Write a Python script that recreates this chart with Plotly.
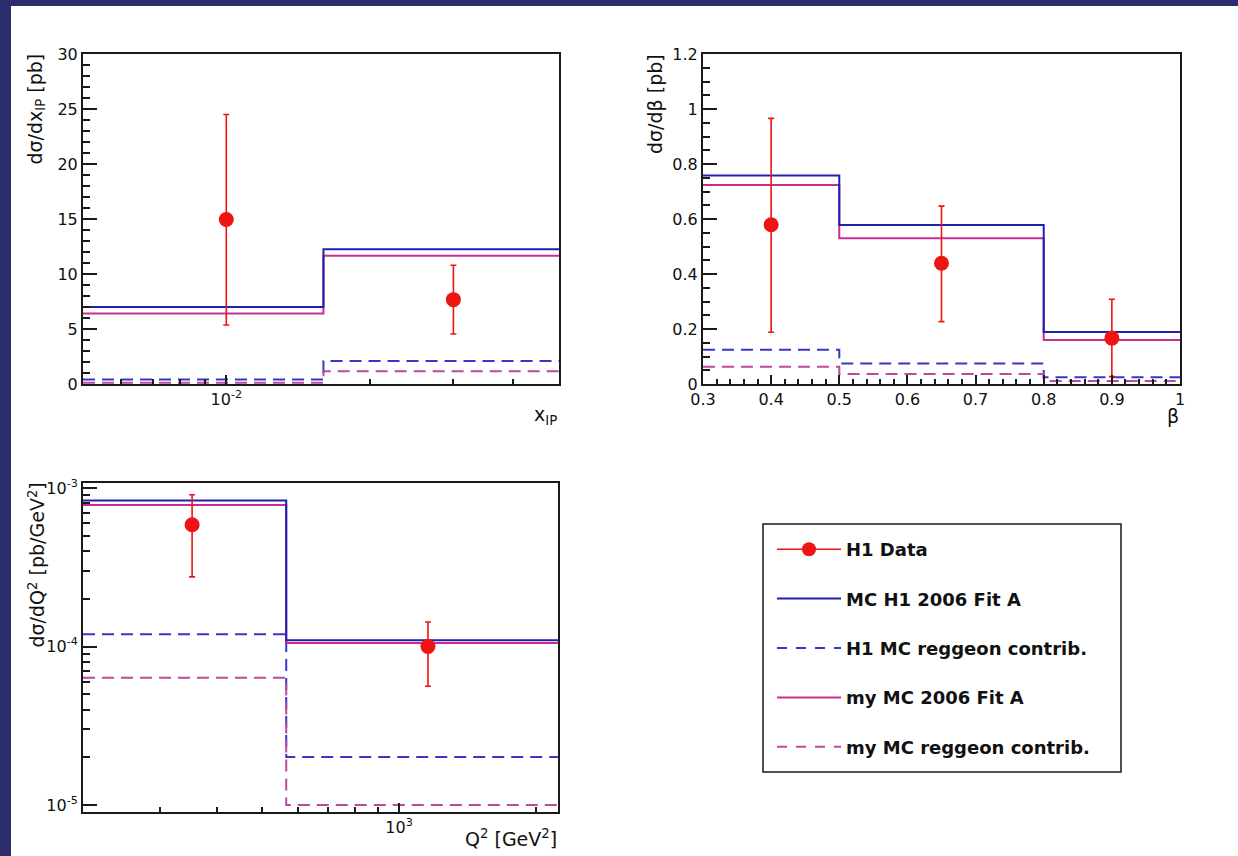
import plotly.graph_objects as go
import numpy as np

W, H = 1238, 856

# ---------------- data ----------------
# Panel 1: d sigma / d x_IP
xip_edges = [0.005, 0.016, 0.05]
xip_h1_fit = [7.0, 12.25]
xip_h1_regg = [0.4, 2.08]
xip_my_fit = [6.4, 11.65]
xip_my_regg = [0.12, 1.15]
xip_data_x = [0.01, 0.03]
xip_data_y = [14.95, 7.67]
xip_err_up = [9.55, 3.13]
xip_err_dn = [9.59, 3.12]

# Panel 2: d sigma / d beta
beta_edges = [0.3, 0.5, 0.8, 1.0]
beta_h1_fit = [0.758, 0.578, 0.189]
beta_h1_regg = [0.125, 0.075, 0.025]
beta_my_fit = [0.724, 0.530, 0.160]
beta_my_regg = [0.063, 0.036, 0.011]
beta_data_x = [0.4, 0.65, 0.9]
beta_data_y = [0.579, 0.439, 0.167]
beta_err_up = [0.387, 0.208, 0.141]
beta_err_dn = [0.391, 0.212, 0.140]

# Panel 3: d sigma / d Q^2
q2_edges = [203, 566, 2230]
q2_h1_fit = [8.36e-4, 1.096e-4]
q2_h1_regg = [1.196e-4, 2.01e-5]
q2_my_fit = [7.81e-4, 1.054e-4]
q2_my_regg = [6.35e-5, 1.0e-5]
q2_data_x = [352, 1157]
q2_data_y = [5.87e-4, 1.0e-4]
q2_err_up = [3.21e-4, 4.3e-5]
q2_err_dn = [3.12e-4, 4.38e-5]

legend_names = ["H1 Data", "MC H1 2006 Fit A", "H1 MC reggeon contrib.",
                "my MC 2006 Fit A", "my MC reggeon contrib."]

# ---------------- styles ----------------
RED = "#ee1414"
BLUE = "#2020b0"
BLUE_D = "#3636c8"
MAG = "#cc2c90"
MAG_D = "#bb4a9e"
BG = "#2b2e6a"
FONT = "DejaVu Sans"
DASH = "12px,7px"


def px_x(p):
    return p / W


def px_y(p):
    return 1 - p / H


def step_y(v):
    return list(v) + [v[-1]]


fig = go.Figure()

panels = [
    ("x", "y", xip_edges, xip_h1_fit, xip_h1_regg, xip_my_fit, xip_my_regg,
     xip_data_x, xip_data_y, xip_err_up, xip_err_dn),
    ("x2", "y2", beta_edges, beta_h1_fit, beta_h1_regg, beta_my_fit, beta_my_regg,
     beta_data_x, beta_data_y, beta_err_up, beta_err_dn),
    ("x3", "y3", q2_edges, q2_h1_fit, q2_h1_regg, q2_my_fit, q2_my_regg,
     q2_data_x, q2_data_y, q2_err_up, q2_err_dn),
]

for (xa, ya, edges, h1f, h1r, myf, myr, dx, dy, eu, ed) in panels:
    for vals, col, dash in [(h1r, BLUE_D, DASH), (myr, MAG_D, DASH),
                            (myf, MAG, "solid"), (h1f, BLUE, "solid")]:
        fig.add_trace(go.Scatter(
            x=edges, y=step_y(vals), mode="lines", line_shape="hv",
            line=dict(color=col, width=2, dash=dash),
            xaxis=xa, yaxis=ya, showlegend=False, hoverinfo="skip"))
    fig.add_trace(go.Scatter(
        x=dx, y=dy, mode="markers",
        marker=dict(color=RED, size=15, symbol="circle"),
        error_y=dict(type="data", array=eu, arrayminus=ed, color=RED,
                     thickness=1.6, width=3),
        xaxis=xa, yaxis=ya, showlegend=False))

# legend proxies (no data)
leg_styles = [
    dict(mode="lines+markers", line=dict(color=RED, width=1.6),
         marker=dict(color=RED, size=14)),
    dict(mode="lines", line=dict(color=BLUE, width=2)),
    dict(mode="lines", line=dict(color=BLUE_D, width=2, dash="10px,9px")),
    dict(mode="lines", line=dict(color=MAG, width=2)),
    dict(mode="lines", line=dict(color=MAG_D, width=2, dash="10px,9px")),
]
for i, (name, st) in enumerate(zip(legend_names, leg_styles)):
    fig.add_trace(go.Scatter(x=[None], y=[None], name=name, legendgroup=f"g{i}",
                             xaxis="x3", yaxis="y3", showlegend=True, **st))

tickfont = dict(family=FONT, size=16, color="#111111")


def axis(domain, rng, type_="linear", **kw):
    d = dict(domain=domain, range=rng, type=type_, showgrid=False, zeroline=False,
             showline=True, linecolor="#1a1a1a", linewidth=2, mirror=True,
             ticks="inside", tickcolor="#1a1a1a", tickwidth=1.5,
             tickfont=tickfont, automargin=False)
    d.update(kw)
    return d


# panel pixel boxes
p1 = (83, 559, 54, 384)
p2 = (703, 1180, 54, 384)
p3 = (83, 558, 483, 812)

xip_range = [np.log10(xip_edges[0]), np.log10(xip_edges[-1])]
q2_range = [np.log10(q2_edges[0]), np.log10(q2_edges[-1])]

fig.update_layout(
    template="none",
    width=W, height=H,
    margin=dict(l=0, r=0, t=0, b=0, pad=0, autoexpand=False),
    paper_bgcolor=BG, plot_bgcolor="white",
    xaxis=axis([px_x(p1[0]), px_x(p1[1])], xip_range, "log",
               tickmode="array", tickvals=[0.01], ticktext=["10<sup>-2</sup>"],
               ticklen=9, anchor="y",
               minor=dict(tickmode="array",
                          tickvals=[0.006, 0.007, 0.008, 0.009, 0.02, 0.03, 0.04],
                          ticks="inside", ticklen=5, tickcolor="#1a1a1a", tickwidth=1.5)),
    yaxis=axis([px_y(p1[3]), px_y(p1[2])], [0, 30], tick0=0, dtick=5, ticklen=14,
               anchor="x",
               minor=dict(dtick=1, ticks="inside", ticklen=7, tickcolor="#1a1a1a",
                          tickwidth=1.5)),
    xaxis2=axis([px_x(p2[0]), px_x(p2[1])], [0.3, 1.0], tick0=0.3, dtick=0.1,
                ticklen=9, anchor="y2",
                minor=dict(dtick=0.02, ticks="inside", ticklen=5, tickcolor="#1a1a1a",
                           tickwidth=1.5)),
    yaxis2=axis([px_y(p2[3]), px_y(p2[2])], [0, 1.2], tick0=0, dtick=0.2, ticklen=14,
                anchor="x2",
                minor=dict(dtick=0.05, ticks="inside", ticklen=7, tickcolor="#1a1a1a",
                           tickwidth=1.5)),
    xaxis3=axis([px_x(p3[0]), px_x(p3[1])], q2_range, "log",
                tickmode="array", tickvals=[1000], ticktext=["10<sup>3</sup>"],
                ticklen=9, anchor="y3",
                minor=dict(tickmode="array",
                           tickvals=[300, 400, 500, 600, 700, 800, 900, 2000],
                           ticks="inside", ticklen=5, tickcolor="#1a1a1a", tickwidth=1.5)),
    yaxis3=axis([px_y(p3[3]), px_y(p3[2])], [-5.044, -2.968], "log",
                tickmode="array", tickvals=[1e-5, 1e-4, 1e-3],
                ticktext=["10<sup>-5</sup>", "10<sup>-4</sup>", "10<sup>-3</sup>"],
                ticklen=14, anchor="x3",
                minor=dict(tickmode="array",
                           tickvals=[k * 1e-5 for k in range(2, 10)] +
                                    [k * 1e-4 for k in range(2, 10)],
                           ticks="inside", ticklen=7, tickcolor="#1a1a1a", tickwidth=1.5)),
    legend=dict(x=px_x(772), y=px_y(531), xanchor="left", yanchor="top",
                bgcolor="rgba(0,0,0,0)", borderwidth=0,
                font=dict(family=FONT, size=18, color="#111111", weight="bold"),
                traceorder="grouped", tracegroupgap=23, itemwidth=64),
    shapes=[
        dict(type="rect", xref="paper", yref="paper", x0=px_x(11), x1=1, y0=0,
             y1=px_y(6), fillcolor="white", line=dict(width=0), layer="below"),
        dict(type="rect", xref="paper", yref="paper", x0=px_x(763), x1=px_x(1121),
             y0=px_y(772), y1=px_y(524), fillcolor="rgba(0,0,0,0)",
             line=dict(color="#1a1a1a", width=1.5)),
    ],
)

title_font = dict(family=FONT, size=19, color="#111111")
ann = [
    dict(text="x<sub>IP</sub>", x=px_x(559), y=px_y(401), xanchor="right", yanchor="top"),
    dict(text="β", x=px_x(1181), y=px_y(403), xanchor="right", yanchor="top"),
    dict(text="Q<sup>2</sup> [GeV<sup>2</sup>]", x=px_x(559), y=px_y(824),
         xanchor="right", yanchor="top"),
    dict(text="dσ/dx<sub>IP</sub> [pb]", x=px_x(36), y=px_y(52), xanchor="center",
         yanchor="top", textangle=-90),
    dict(text="dσ/dβ [pb]", x=px_x(655), y=px_y(52), xanchor="center",
         yanchor="top", textangle=-90),
    dict(text="dσ/dQ<sup>2</sup> [pb/GeV<sup>2</sup>]", x=px_x(36), y=px_y(481),
         xanchor="center", yanchor="top", textangle=-90),
]
for a in ann:
    a.update(xref="paper", yref="paper", showarrow=False, font=title_font)
fig.update_layout(annotations=ann)

fig.write_html("out.html")
